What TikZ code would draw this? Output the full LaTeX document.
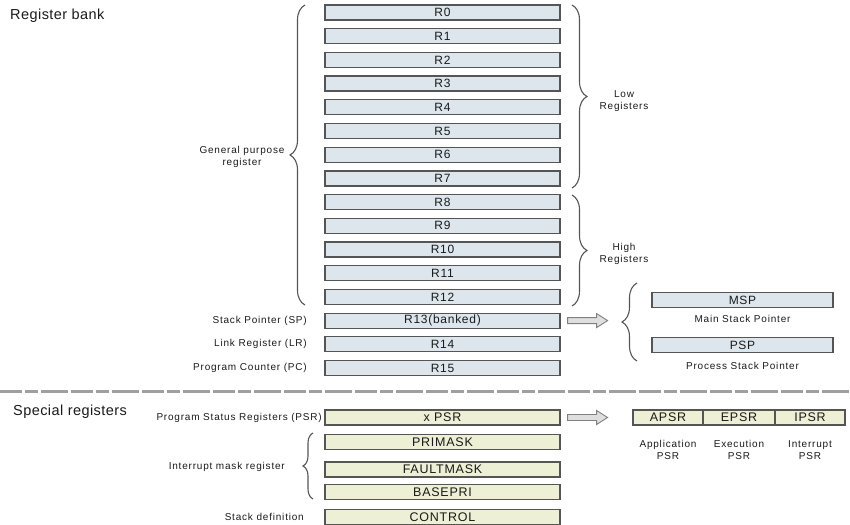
\documentclass[tikz,border=0pt]{standalone}
\usepackage{fontspec}
\setmainfont{Liberation Sans}
\newfontfamily\lblfont[LetterSpace=8]{Liberation Sans}
\newfontfamily\regfont[LetterSpace=6]{Liberation Sans}
\newfontfamily\ttlfont[LetterSpace=3]{Liberation Sans}
\usetikzlibrary{decorations.pathreplacing,calc}
\definecolor{regblue}{HTML}{DCE6EC}
\definecolor{regyel}{HTML}{EDF0D4}
\definecolor{edgec}{HTML}{555555}
\definecolor{txt}{HTML}{1A1A1A}
\begin{document}
\begin{tikzpicture}[x=1pt,y=-1pt,
  reg/.style={draw=edgec,line width=1.2pt,fill=regblue,minimum width=235pt,minimum height=15pt,inner sep=0pt,font=\regfont\fontsize{12}{12}\selectfont,text=txt},
  sreg/.style={reg,fill=regyel,font=\regfont\fontsize{12.5}{13}\selectfont},
  lbl/.style={font=\lblfont\fontsize{10}{11.5}\selectfont,text=txt,align=center,inner sep=0pt},
  ttl/.style={font=\ttlfont\fontsize{14.5}{16}\selectfont,text=txt,anchor=west,inner sep=0pt},
  brc/.style={decorate,decoration={brace,amplitude=15pt},draw=edgec,line width=1.1pt},
  sbrc/.style={decorate,decoration={brace,amplitude=10pt},draw=edgec,line width=1.1pt},
  fatarrow/.style={draw=gray,fill=gray!25,line width=0.9pt}]
\useasboundingbox (0,0) rectangle (850,524);

% titles
\node[ttl] (tbank) at (10,16) {Register bank};
\node[ttl] (tspec) at (13,412) {Special registers};

% general registers
\foreach \i in {0,...,12} {\node[reg] (r\i) at (442.5,{12.5+23.7*\i}) {R\i};}
\node[reg] (r13) at (442.5,{12.5+23.7*13}) {R13(banked)};
\node[reg] (r14) at (442.5,{12.5+23.7*14}) {R14};
\node[reg] (r15) at (442.5,{12.5+23.7*15}) {R15};

% left labels
\node[lbl,anchor=east] (lsp) at (307,|-r13) {Stack Pointer (SP)};
\node[lbl,anchor=east] (llr) at (307,|-r14) {Link Register (LR)};
\node[lbl,anchor=east] (lpc) at (307,|-r15) {Program Counter (PC)};
\coordinate (gpt) at (305,5);
\coordinate (gpb) at (305,305);
\draw[brc] (gpb) -- (gpt);
\node[lbl] (lgp) at (242,157) {General purpose\\register};

% low / high braces
\coordinate (lowt) at (572,5);
\coordinate (lowb) at (572,188);
\draw[brc] (lowt) -- (lowb);
\node[lbl] (llow) at (624,101) {Low\\Registers};
\coordinate (hight) at (572,195);
\coordinate (highb) at (572,306);
\draw[brc] (hight) -- (highb);
\node[lbl] (lhigh) at (624,254) {High\\Registers};

% SP arrow and brace
\draw[fatarrow] ($(r13.east)+(7,-3)$) -- ++(29,0) -- ++(0,-4) -- ++(11,7) -- ++(-11,7) -- ++(0,-4) -- ++(-29,0) -- cycle;
\coordinate (spt) at (637,283);
\coordinate (spb) at (637,361);
\draw[brc] (spb) -- (spt);
\node[reg,minimum width=181pt] (msp) at (742.5,300) {MSP};
\node[lbl] (lmsp) at (742.5,319) {Main Stack Pointer};
\node[reg,minimum width=181pt] (psp) at (742.5,345) {PSP};
\node[lbl] (lpsp) at (742.5,366) {Process Stack Pointer};

% separator
\coordinate (sepl) at (0,391);
\coordinate (sepr) at (850,391);
\draw[gray!75,line width=3pt,dash pattern=on 22pt off 3pt on 13pt off 3pt on 27pt off 3pt] (sepl) -- (sepr);

% special registers
\node[sreg] (xpsr) at (442.5,417.5) {x PSR};
\node[sreg] (prim) at (442.5,442) {PRIMASK};
\node[sreg] (fault) at (442.5,469.5) {FAULTMASK};
\node[sreg] (basep) at (442.5,492) {BASEPRI};
\node[sreg] (ctrl) at (442.5,517) {CONTROL};

\node[lbl,anchor=east] (lpsr) at (322,|-xpsr) {Program Status Registers (PSR)};
\node[lbl,anchor=east] (lint) at (285,467) {Interrupt mask register};
\node[lbl,anchor=east] (lstk) at (304,|-ctrl) {Stack definition};
\coordinate (imt) at (313,433);
\coordinate (imb) at (313,499);
\draw[sbrc] (imb) -- (imt);

\draw[fatarrow] ($(xpsr.east)+(7,-3)$) -- ++(29,0) -- ++(0,-4) -- ++(11,7) -- ++(-11,7) -- ++(0,-4) -- ++(-29,0) -- cycle;
\node[sreg,minimum width=70pt] (apsr) at (668,417.5) {APSR};
\node[sreg,minimum width=72pt] (epsr) at (739,417.5) {EPSR};
\node[sreg,minimum width=70pt] (ipsr) at (810,417.5) {IPSR};
\node[lbl] (lapsr) at (668,450) {Application\\PSR};
\node[lbl] (lepsr) at (739,450) {Execution\\PSR};
\node[lbl] (lipsr) at (810,450) {Interrupt\\PSR};
\end{tikzpicture}
\end{document}
